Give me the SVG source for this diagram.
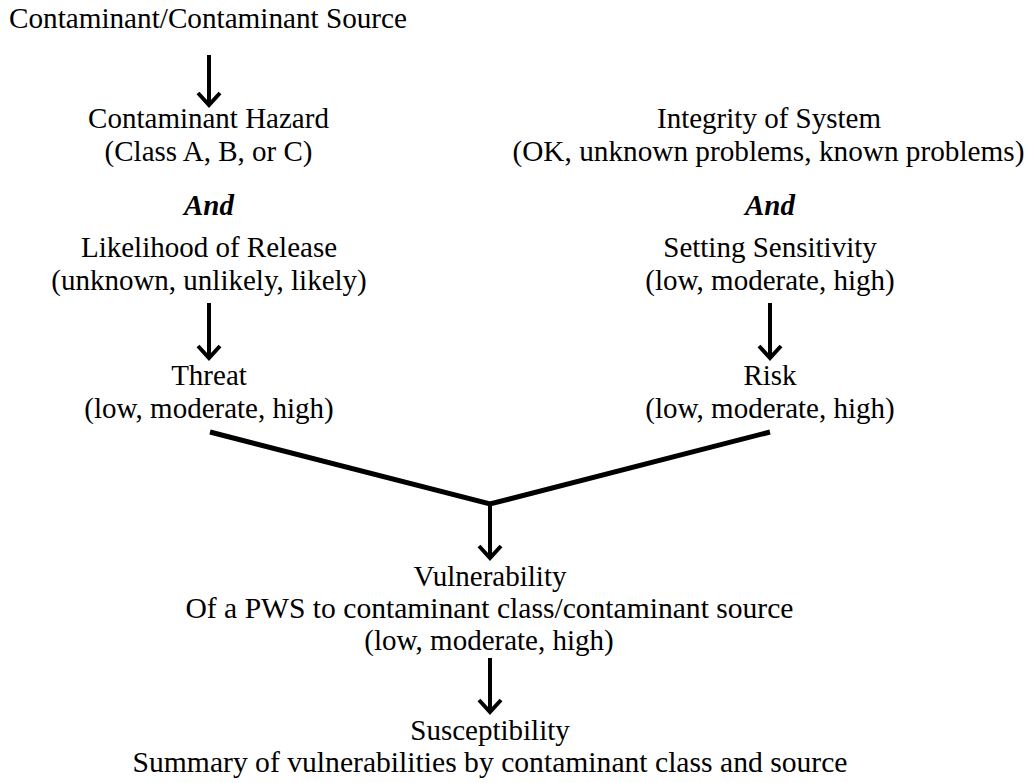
<svg xmlns="http://www.w3.org/2000/svg" width="1029" height="783" viewBox="0 0 1029 783">
<style>
text{font-family:"Liberation Serif","Times New Roman",serif;font-size:29px;fill:#000;text-anchor:middle}
.and{font-weight:bold;font-style:italic}
.conn{stroke:#000;fill:none}
.arrow{stroke-width:4;marker-end:url(#chev)}
.join{stroke-width:5;stroke-linejoin:miter}
</style>
<defs>
<marker id="chev" viewBox="0 0 16 26" refX="14" refY="13" markerWidth="16" markerHeight="26" markerUnits="userSpaceOnUse" orient="auto" overflow="visible">
<path d="M2 2 L14 13 L2 24" fill="none" stroke="#000" stroke-width="4"/>
</marker>
</defs>
<rect width="1029" height="783" fill="#fff"/>
<g id="source"><text x="208" y="28" textLength="398" lengthAdjust="spacingAndGlyphs">Contaminant/Contaminant Source</text></g>
<g id="hazard"><text x="208.5" y="128">Contaminant Hazard</text><text x="208.5" y="161">(Class A, B, or C)</text></g>
<g id="and-left"><text class="and" x="209" y="215">And</text></g>
<g id="likelihood"><text x="209" y="257">Likelihood of Release</text><text x="209" y="290">(unknown, unlikely, likely)</text></g>
<g id="threat"><text x="209" y="385">Threat</text><text x="209" y="418">(low, moderate, high)</text></g>
<g id="integrity"><text x="769" y="128">Integrity of System</text><text x="768.5" y="161" textLength="512" lengthAdjust="spacingAndGlyphs">(OK, unknown problems, known problems)</text></g>
<g id="and-right"><text class="and" x="770" y="215">And</text></g>
<g id="setting"><text x="770" y="257">Setting Sensitivity</text><text x="770" y="290">(low, moderate, high)</text></g>
<g id="risk"><text x="770" y="385">Risk</text><text x="770" y="418">(low, moderate, high)</text></g>
<g id="vulnerability"><text x="490" y="586">Vulnerability</text><text x="489.5" y="618" textLength="608" lengthAdjust="spacingAndGlyphs">Of a PWS to contaminant class/contaminant source</text><text x="489" y="650">(low, moderate, high)</text></g>
<g id="susceptibility"><text x="490" y="740">Susceptibility</text><text x="490" y="772" textLength="715" lengthAdjust="spacingAndGlyphs">Summary of vulnerabilities by contaminant class and source</text></g>
<g id="connectors">
<path class="conn arrow" d="M209 55 V105"/>
<path class="conn arrow" d="M209 303 V358"/>
<path class="conn arrow" d="M770 303 V358"/>
<path class="conn join" d="M210 432 L490 504 L770 432"/>
<path class="conn arrow" d="M490 502 V558"/>
<path class="conn arrow" d="M490 658 V712"/>
</g>
</svg>
